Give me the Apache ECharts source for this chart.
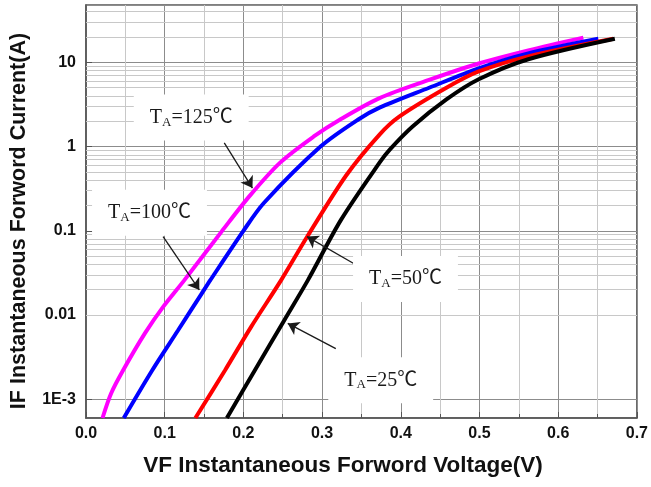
<!DOCTYPE html>
<html>
<head>
<meta charset="utf-8">
<script src="https://cdn.jsdelivr.net/npm/echarts@6/dist/echarts.min.js"></script>
<style>
html, body { margin: 0; padding: 0; background: #fff; }
#chart { width: 651px; height: 487px; }
</style>
</head>
<body>
<div id="chart"></div>
<script>
// forward voltage (V) / current (A)
var v125 = [0.021, 0.032, 0.047, 0.075, 0.098, 0.125, 0.173, 0.208, 0.247, 0.289, 0.323, 0.373, 0.436, 0.499, 0.562, 0.632];
var i125 = [6.0e-4, 1.18e-3, 2.2e-3, 6.1e-3, 0.0125, 0.026, 0.1, 0.26, 0.65, 1.31, 2.1, 3.77, 6.2, 9.7, 13.9, 19.7];
var v100 = [0.048, 0.084, 0.117, 0.147, 0.158, 0.2, 0.226, 0.298, 0.346, 0.373, 0.436, 0.499, 0.562, 0.651];
var i100 = [6.0e-4, 2.2e-3, 6.6e-3, 0.018, 0.026, 0.1, 0.214, 1.0, 2.1, 2.9, 5.0, 8.5, 12.8, 19.1];
var v50 = [0.139, 0.1765, 0.210, 0.248, 0.281, 0.331, 0.373, 0.398, 0.458, 0.499, 0.562, 0.670];
var i50 = [6.0e-4, 2.2e-3, 7.3e-3, 0.026, 0.085, 0.46, 1.39, 2.27, 5.0, 7.8, 11.8, 19.1];
var v25 = [0.179, 0.2144, 0.252, 0.282, 0.324, 0.373, 0.386, 0.415, 0.458, 0.499, 0.562, 0.672];
var i25 = [6.0e-4, 2.2e-3, 8.7e-3, 0.026, 0.135, 0.645, 0.92, 1.73, 3.63, 6.3, 10.9, 19.1];

var yTickValues = [0.001, 0.01, 0.1, 1, 10];
var yTickLabels = ['1E-3', '0.01', '0.1', '1', '10'];

// label text, label centre, arrow tail, arrow tip (data units)
var annTemps = ['125', '100', '50', '25'];
var annLabelAt = [[0.1337, 2.21], [0.0807, 0.164], [0.406, 0.0268], [0.3745, 1.68e-3]];
var annTail = [[0.1757, 1.107], [0.098, 0.0855], [0.3396, 0.0412], [0.3174, 4.0e-3]];
var annTip = [[0.2115, 0.322], [0.144, 0.0199], [0.2808, 0.0855], [0.2564, 7.96e-3]];

var colors = ['#ff00ff', '#0000ff', '#ff0000', '#000000'];
var yMin = 6e-4, yMax = 48;

function pairs(xs, ys) {
    return xs.map(function (x, k) { return [x, ys[k]]; });
}

// minor horizontal grid at 2..9 x each decade
var yMinor = [];
for (var e = -4; e <= 1; e++) {
    for (var m = 2; m <= 9; m++) {
        var val = m * Math.pow(10, e);
        if (val > yMin && val < yMax) yMinor.push(+val.toPrecision(3));
    }
}

var serif = "'Liberation Serif', 'Noto Sans CJK SC', serif";

function curve(idx, xs, ys) {
    return {
        type: 'line',
        data: pairs(xs, ys),
        showSymbol: false,
        symbol: 'none',
        smooth: 0.3,
        lineStyle: { color: colors[idx], width: 4 },
        itemStyle: { color: colors[idx] },
        z: 3,
        markLine: {
            silent: true,
            z: 6,
            symbol: ['none', 'arrow'],
            symbolSize: 11,
            label: { show: false },
            lineStyle: { color: '#1a1a1a', width: 1.3, type: 'solid' },
            data: [[{ coord: annTail[idx] }, { coord: annTip[idx] }]]
        },
        markPoint: {
            silent: true,
            z: 6,
            symbolSize: 0,
            data: [{ coord: annLabelAt[idx] }],
            label: {
                show: true,
                position: 'inside',
                formatter: '{t|T}{s|A}{t|=' + annTemps[idx] + '℃}',
                backgroundColor: '#fff',
                padding: [12, 16],
                rich: {
                    t: { fontFamily: serif, fontSize: 20, color: '#1a1a1a' },
                    s: { fontFamily: serif, fontSize: 13, color: '#1a1a1a', padding: [9, 0, 0, 0] }
                }
            }
        }
    };
}

var chart = echarts.init(document.getElementById('chart'));
chart.setOption({
    animation: false,
    backgroundColor: '#fff',
    grid: {
        left: 84, right: 11, top: 5, bottom: 69,
        show: true, borderColor: '#555', borderWidth: 1.5, backgroundColor: 'transparent'
    },
    xAxis: {
        type: 'value',
        min: 0, max: 0.7, interval: 0.1,
        name: 'VF Instantaneous Forword Voltage(V)',
        nameLocation: 'middle',
        nameGap: 36,
        nameTextStyle: { fontFamily: 'Liberation Sans', fontWeight: 'bold', fontSize: 22.5, color: '#111', padding: [0, 37, 0, 0] },
        axisLine: { show: true, lineStyle: { color: '#555', width: 1.5 } },
        axisTick: { show: true, inside: true, length: 6, lineStyle: { color: '#555' } },
        minorTick: { show: true, splitNumber: 2, length: 4, lineStyle: { color: '#555' } },
        splitLine: { show: true, lineStyle: { color: '#8c8c8c', width: 1 } },
        minorSplitLine: { show: true, lineStyle: { color: '#c8c8c8', width: 1 } },
        axisLabel: {
            margin: 8, fontFamily: 'Liberation Sans', fontWeight: 'bold', fontSize: 16, color: '#111',
            formatter: function (v) { return v.toFixed(1); }
        }
    },
    yAxis: {
        type: 'log',
        logBase: 10,
        min: yMin, max: yMax,
        name: 'IF Instantaneous Forword Current(A)',
        nameLocation: 'middle',
        nameGap: 56,
        nameTextStyle: { fontFamily: 'Liberation Sans', fontWeight: 'bold', fontSize: 21.5, color: '#111', padding: [0, 19, 0, 0] },
        axisLine: { show: true, lineStyle: { color: '#555', width: 1.5 } },
        axisTick: { show: true, inside: true, length: 6, lineStyle: { color: '#555' } },
        splitLine: { show: true, lineStyle: { color: '#8c8c8c', width: 1 } },
        axisLabel: {
            margin: 10, fontFamily: 'Liberation Sans', fontWeight: 'bold', fontSize: 16, color: '#111',
            showMinLabel: false, showMaxLabel: false,
            formatter: function (v) {
                for (var k = 0; k < yTickValues.length; k++) {
                    if (Math.abs(v - yTickValues[k]) / yTickValues[k] < 1e-6) return yTickLabels[k];
                }
                return '';
            }
        }
    },
    series: [
        {
            type: 'line',
            data: [],
            silent: true,
            z: 1,
            markLine: {
                silent: true,
                z: 1,
                symbol: ['none', 'none'],
                label: { show: false },
                lineStyle: { color: '#c8c8c8', width: 1, type: 'solid' },
                data: yMinor.map(function (v) { return { yAxis: v }; })
            }
        },
        curve(0, v125, i125),
        curve(1, v100, i100),
        curve(2, v50, i50),
        curve(3, v25, i25)
    ]
});
</script>
</body>
</html>
